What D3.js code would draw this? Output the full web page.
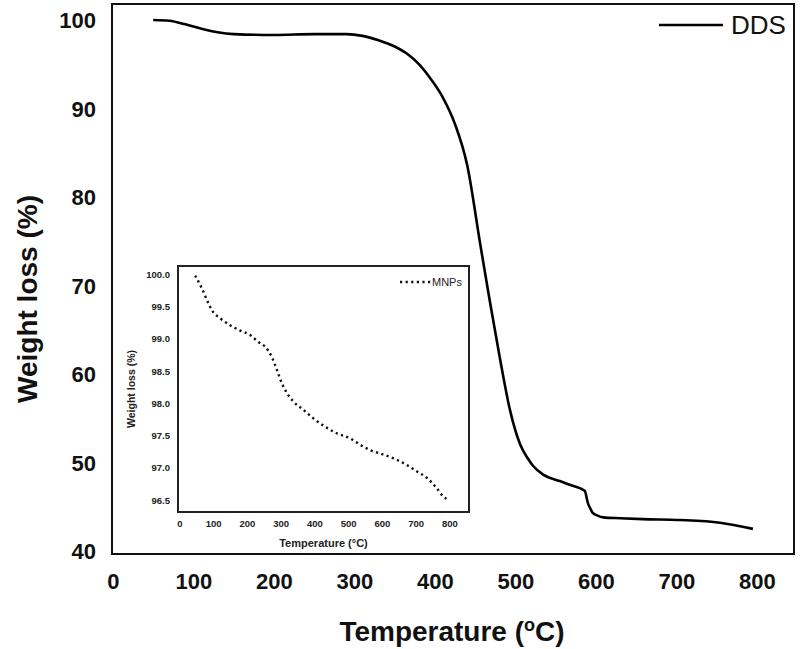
<!DOCTYPE html>
<html>
<head>
<meta charset="utf-8">
<script src="https://cdn.jsdelivr.net/npm/d3@7"></script>
<style>
  html, body { margin: 0; padding: 0; background: #fff; }
  svg { display: block; font-family: "Liberation Sans", Arial, Helvetica, sans-serif; }
</style>
</head>
<body>
<svg id="chart" width="800" height="649"></svg>
<script>
// ---- Main series: DDS (temperature °C, weight %) ----
const ddsTemp   = [50, 70, 90, 110, 130, 150, 200, 250, 290, 310, 330, 350, 365, 380, 395, 410, 425, 440, 456, 468, 481, 493, 506, 515, 522, 535, 555, 570, 586, 590, 593, 596, 602, 609, 630, 658, 704, 754, 795];
const ddsWeight = [100.0, 99.9, 99.5, 99.0, 98.6, 98.4, 98.3, 98.4, 98.4, 98.2, 97.7, 97.0, 96.2, 95.0, 93.3, 91.2, 88.2, 83.6, 74.8, 68.3, 61.6, 56.0, 52.0, 50.5, 49.6, 48.6, 47.9, 47.4, 46.8, 45.4, 44.8, 44.3, 44.0, 43.8, 43.7, 43.6, 43.5, 43.2, 42.5];

// ---- Inset series: MNPs ----
const mnpTemp   = [47, 67, 82, 97, 121, 151, 180, 210, 235, 254, 274, 289, 304, 319, 338, 368, 397, 432, 466, 506, 536, 565, 604, 644, 673, 703, 733, 762, 782, 800];
const mnpWeight = [99.97, 99.77, 99.59, 99.43, 99.31, 99.20, 99.12, 99.05, 98.94, 98.87, 98.71, 98.51, 98.30, 98.15, 98.02, 97.89, 97.76, 97.63, 97.53, 97.45, 97.35, 97.27, 97.20, 97.12, 97.04, 96.94, 96.84, 96.68, 96.55, 96.49];

// ---- Tick labels ----
const mainXTicks = [0, 100, 200, 300, 400, 500, 600, 700, 800];
const mainYTicks = [40, 50, 60, 70, 80, 90, 100];
const insetXTicks = [0, 100, 200, 300, 400, 500, 600, 700, 800];
const insetYTicks = [96.5, 97.0, 97.5, 98.0, 98.5, 99.0, 99.5, 100.0];

const svg = d3.select("#chart");

// ===== Main chart =====
const M = { left: 112, top: 4, right: 794, bottom: 554 };
const x = d3.scaleLinear().domain([-1.2, 846]).range([M.left, M.right]);
const y = d3.scaleLinear().domain([39.66, 101.8]).range([M.bottom, M.top]);

svg.append("rect")
  .attr("x", M.left).attr("y", M.top)
  .attr("width", M.right - M.left).attr("height", M.bottom - M.top)
  .attr("fill", "none").attr("stroke", "#111").attr("stroke-width", 2);

const xAxis = d3.axisBottom(x).tickValues(mainXTicks).tickSize(0).tickPadding(0);
const gx = svg.append("g").attr("transform", `translate(0,${M.bottom})`).call(xAxis);
gx.select(".domain").remove();
gx.selectAll("text")
  .attr("y", 35).attr("dy", 0)
  .attr("font-size", 22).attr("font-weight", "bold").attr("fill", "#111")
  .attr("font-family", "Liberation Sans, Arial, sans-serif");

const yAxis = d3.axisLeft(y).tickValues(mainYTicks).tickSize(0).tickPadding(0);
const gy = svg.append("g").attr("transform", `translate(${M.left},0)`).call(yAxis);
gy.select(".domain").remove();
gy.selectAll("text")
  .attr("x", -16).attr("dy", "0.36em")
  .attr("font-size", 22).attr("font-weight", "bold").attr("fill", "#111")
  .attr("font-family", "Liberation Sans, Arial, sans-serif");

// axis titles
const xt = svg.append("text")
  .attr("x", 452).attr("y", 641)
  .attr("text-anchor", "middle")
  .attr("font-size", 28).attr("font-weight", "bold").attr("fill", "#111");
xt.append("tspan").text("Temperature (");
xt.append("tspan").attr("font-size", 18).attr("dy", -10).text("o");
xt.append("tspan").attr("dy", 10).text("C)");

svg.append("text")
  .attr("transform", `translate(37,${(M.top + M.bottom) / 2 + 20}) rotate(-90)`)
  .attr("text-anchor", "middle")
  .attr("font-size", 28).attr("font-weight", "bold").attr("fill", "#111")
  .text("Weight loss (%)");

// DDS line
const ddsData = ddsTemp.map((t, i) => ({ t, w: ddsWeight[i] }));
svg.append("path")
  .datum(ddsData)
  .attr("fill", "none").attr("stroke", "#000").attr("stroke-width", 2.6)
  .attr("stroke-linejoin", "round")
  .attr("d", d3.line().x(d => x(d.t)).y(d => y(d.w)).curve(d3.curveMonotoneX));

// main legend
svg.append("line")
  .attr("x1", 659).attr("x2", 723).attr("y1", 25).attr("y2", 25)
  .attr("stroke", "#000").attr("stroke-width", 2.4);
svg.append("text")
  .attr("x", 731).attr("y", 25).attr("dy", "0.36em")
  .attr("font-size", 26).attr("fill", "#111")
  .text("DDS");

// ===== Inset chart =====
const I = { left: 178, top: 266, right: 469, bottom: 512 };
const ix = d3.scaleLinear().domain([-4, 858]).range([I.left, I.right]);
const iy = d3.scaleLinear().domain([96.31, 100.12]).range([I.bottom, I.top]);

svg.append("rect")
  .attr("x", I.left).attr("y", I.top)
  .attr("width", I.right - I.left).attr("height", I.bottom - I.top)
  .attr("fill", "#fff").attr("stroke", "#222").attr("stroke-width", 2);

const ixAxis = d3.axisBottom(ix).tickValues(insetXTicks).tickSize(0).tickPadding(0);
const gix = svg.append("g").attr("transform", `translate(0,${I.bottom})`).call(ixAxis);
gix.select(".domain").remove();
gix.selectAll("text")
  .attr("y", 15).attr("dy", 0)
  .attr("font-size", 9.5).attr("font-weight", "bold").attr("fill", "#222")
  .attr("font-family", "Liberation Sans, Arial, sans-serif");

const iyAxis = d3.axisLeft(iy).tickValues(insetYTicks).tickSize(0).tickPadding(0).tickFormat(d3.format(".1f"));
const giy = svg.append("g").attr("transform", `translate(${I.left},0)`).call(iyAxis);
giy.select(".domain").remove();
giy.selectAll("text")
  .attr("x", -8).attr("dy", "0.36em")
  .attr("font-size", 9.5).attr("font-weight", "bold").attr("fill", "#222")
  .attr("font-family", "Liberation Sans, Arial, sans-serif");

svg.append("text")
  .attr("x", (I.left + I.right) / 2).attr("y", 547)
  .attr("text-anchor", "middle")
  .attr("font-size", 11).attr("font-weight", "bold").attr("fill", "#222")
  .text("Temperature (°C)");

svg.append("text")
  .attr("transform", `translate(135,${(I.top + I.bottom) / 2}) rotate(-90)`)
  .attr("text-anchor", "middle")
  .attr("font-size", 10.5).attr("font-weight", "bold").attr("fill", "#222")
  .text("Weight loss (%)");

const mnpData = mnpTemp.map((t, i) => ({ t, w: mnpWeight[i] }));
svg.append("path")
  .datum(mnpData)
  .attr("fill", "none").attr("stroke", "#111").attr("stroke-width", 2.4)
  .attr("stroke-dasharray", "2.2 3.4")
  .attr("d", d3.line().x(d => ix(d.t)).y(d => iy(d.w)).curve(d3.curveMonotoneX));

// inset legend
svg.append("line")
  .attr("x1", 400).attr("x2", 431).attr("y1", 282).attr("y2", 282)
  .attr("stroke", "#111").attr("stroke-width", 2.4)
  .attr("stroke-dasharray", "2.2 3.4");
svg.append("text")
  .attr("x", 432).attr("y", 282).attr("dy", "0.36em")
  .attr("font-size", 11).attr("fill", "#222")
  .text("MNPs");
</script>
</body>
</html>
